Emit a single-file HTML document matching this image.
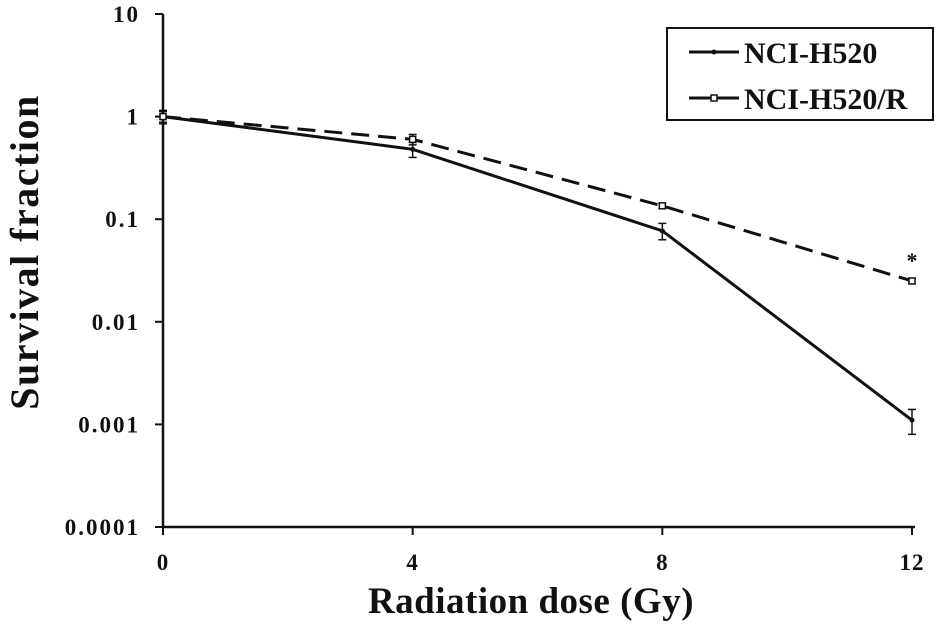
<!DOCTYPE html>
<html><head><meta charset="utf-8"><style>
body{margin:0;background:#fff;}
svg text{font-family:"Liberation Serif",serif;font-weight:bold;fill:#111;}
</style></head><body>
<svg id="chart" width="945" height="634" viewBox="0 0 945 634">
<g id="axes"></g><g id="series"></g>
<g>
<rect x="667" y="28" width="266" height="92" fill="#fff" stroke="#111" stroke-width="2"/>
<g>
<line x1="689" y1="52" x2="739" y2="52" stroke="#111" stroke-width="3"/>
<circle cx="714" cy="52" r="2.5" fill="#111"/>
<text x="744" y="63" font-size="30">NCI-H520</text></g>
<g>
<line x1="689" y1="98" x2="739" y2="98" stroke="#111" stroke-width="3"/>
<rect x="711" y="95" width="6" height="6" fill="#fff" stroke="#111" stroke-width="1.5"/>
<text x="744" y="109" font-size="30">NCI-H520/R</text></g>
</g>
<text x="531" y="613" font-size="37" letter-spacing="0.5" text-anchor="middle">Radiation dose (Gy)</text>
<text transform="translate(38,252) rotate(-90)" font-size="40" letter-spacing="1.5" text-anchor="middle">Survival fraction</text>
<text x="912" y="268" font-size="22" text-anchor="middle">*</text>
</svg>
<script>
const doses=[0,4,8,12];
const h520=[1,0.48,0.077,0.0011];
const h520Err=[0.15,0.08,0.014,0.0003];
const h520r=[1,0.6,0.135,0.025];
const h520rErr=[0.12,0.07,0.008,0.0015];
const xTicks=[0,4,8,12];
const yTicks=[10,1,0.1,0.01,0.001,0.0001];
const yTickLabels=["10","1","0.1","0.01","0.001","0.0001"];
const NS="http://www.w3.org/2000/svg";
const X=d=>163+d*(912-163)/12;
const Y=v=>527-(Math.log10(v)+4)*(527-14)/5;
function mk(tag,attrs,parent){const e=document.createElementNS(NS,tag);for(const k in attrs)e.setAttribute(k,attrs[k]);parent.appendChild(e);return e;}
const ax=document.getElementById('axes');
let a=mk('line',{x1:163,y1:14,x2:163,y2:527,stroke:'#111','stroke-width':2.5},ax);


a=mk('line',{x1:163,y1:527,x2:915,y2:527,stroke:'#111','stroke-width':2.5},ax);


yTicks.forEach((v,i)=>{mk('line',{x1:155,y1:Y(v),x2:163,y2:Y(v),stroke:'#111','stroke-width':2},ax);
const t=mk('text',{x:140,y:Y(v)+8,'font-size':23,'letter-spacing':2,'text-anchor':'end'},ax);t.textContent=yTickLabels[i];

});
xTicks.forEach(d=>{mk('line',{x1:X(d),y1:527,x2:X(d),y2:535,stroke:'#111','stroke-width':2},ax);
const t=mk('text',{x:X(d),y:570,'font-size':23,'letter-spacing':1,'text-anchor':'middle'},ax);t.textContent=d;

});
const sg=document.getElementById('series');
function series(vals,errs,dash,name,marker){
const g=mk('g',{},sg);


mk('polyline',{points:doses.map((d,i)=>X(d)+','+Y(vals[i])).join(' '),fill:'none',stroke:'#111','stroke-width':3,'stroke-dasharray':dash},g);
doses.forEach((d,i)=>{const x=X(d),v=vals[i],e=errs[i];
const y1=Y(v+e),y2=Y(Math.max(v-e,v*0.05));
mk('line',{x1:x,y1:y1,x2:x,y2:y2,stroke:'#111','stroke-width':1.5},g);
mk('line',{x1:x-4,y1:y1,x2:x+4,y2:y1,stroke:'#111','stroke-width':1.5},g);
mk('line',{x1:x-4,y1:y2,x2:x+4,y2:y2,stroke:'#111','stroke-width':1.5},g);
let m;
if(marker==='sq')m=mk('rect',{x:x-3,y:Y(v)-3,width:6,height:6,fill:'#fff',stroke:'#111','stroke-width':1.5},g);
else m=mk('circle',{cx:x,cy:Y(v),r:2.5,fill:'#111'},g);

});
}
series(h520,h520Err,'none','series-h520','dot');
series(h520r,h520rErr,'18 9','series-h520r','sq');
</script>
</body></html>
